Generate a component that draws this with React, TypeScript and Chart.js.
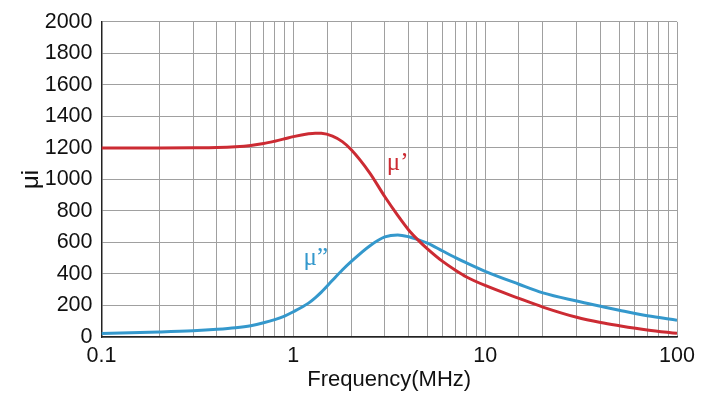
import React, { useEffect, useRef } from "react";
import { Chart, registerables } from "chart.js";

Chart.register(...registerables);

const freq = [0.1, 0.2, 0.3, 0.4, 0.5, 0.6, 0.7, 0.8, 0.9, 1.0, 1.2, 1.3, 1.4, 1.6, 1.8, 2.0, 2.5, 3.0, 3.5, 4.0, 4.5, 5, 6, 7, 8, 10, 15, 20, 30, 40, 50, 70, 100];
const muReal = [1200, 1200, 1201, 1203, 1208, 1216, 1228, 1243, 1258, 1272, 1290, 1294, 1293, 1275, 1240, 1190, 1042, 890, 772, 678, 612, 560, 480, 424, 381, 327, 245, 190, 125, 92, 72, 45, 23];
const muImag = [22, 32, 40, 49, 59, 72, 90, 110, 133, 160, 215, 249, 285, 360, 425, 478, 578, 635, 648, 636, 616, 596, 546, 504, 470, 417, 335, 280, 228, 195, 170, 135, 107];
const yTicks = [0, 200, 400, 600, 800, 1000, 1200, 1400, 1600, 1800, 2000];
const xTickLabels = ["0.1", "1", "10", "100"];

const RED = "#cc2b33";
const BLUE = "#3498cc";

const seriesLabels = [
  { text: "μ’", f: 3.5, v: 1100, color: RED },
  { text: "μ”", f: 1.31, v: 500, color: BLUE },
];

export default function App() {
  const ref = useRef<HTMLCanvasElement>(null);
  useEffect(() => {
    if (!ref.current) return;
    const labelPlugin = {
      id: "seriesLabels",
      afterDatasetsDraw(chart: any) {
        const ctx = chart.ctx;
        const xs = chart.scales.x;
        const ys = chart.scales.y;
        ctx.save();
        ctx.font = "25px 'Liberation Serif'";
        ctx.textAlign = "center";
        ctx.textBaseline = "middle";
        for (const l of seriesLabels) {
          ctx.fillStyle = l.color;
          ctx.fillText(l.text, xs.getPixelForValue(l.f), ys.getPixelForValue(l.v));
        }
        ctx.restore();
      },
    };
    const chart = new Chart(ref.current, {
      type: "line",
      data: {
        datasets: [
          {
            label: "μ'",
            data: freq.map((f, i) => ({ x: f, y: muReal[i] })),
            borderColor: RED,
            borderWidth: 3,
            pointRadius: 0,
            cubicInterpolationMode: "monotone",
          },
          {
            label: "μ''",
            data: freq.map((f, i) => ({ x: f, y: muImag[i] })),
            borderColor: BLUE,
            borderWidth: 3,
            pointRadius: 0,
            cubicInterpolationMode: "monotone",
          },
        ],
      },
      options: {
        responsive: false,
        animation: false,
        layout: { padding: { left: 0, right: 37, top: 19, bottom: 0 } },
        plugins: { legend: { display: false }, tooltip: { enabled: false } },
        scales: {
          x: {
            type: "logarithmic",
            min: 0.1,
            max: 100,
            afterFit: (s: any) => {
              s.height = 77;
            },
            grid: {
              color: "#a0a0a0",
              lineWidth: 1,
              drawTicks: false,
            },
            border: { color: "#222", width: 1.5 },
            ticks: {
              autoSkip: false,
              maxRotation: 0,
              padding: 6,
              color: "#111",
              font: { family: "'Liberation Sans', Arial", size: 21.5 },
              callback: (v: any) => {
                const l = Math.log10(Number(v));
                if (Math.abs(l - Math.round(l)) < 1e-6) {
                  const idx = Math.round(l) + 1;
                  return xTickLabels[idx] ?? "";
                }
                return "";
              },
            },
            title: {
              display: true,
              text: "Frequency(MHz)",
              color: "#111",
              font: { family: "'Liberation Sans', Arial", size: 22 },
              padding: { top: 0, bottom: 21 },
            },
          },
          y: {
            min: 0,
            max: 2000,
            afterFit: (s: any) => {
              s.width = 101.5;
            },
            afterBuildTicks: (s: any) => {
              s.ticks = yTicks.map((v) => ({ value: v }));
            },
            grid: { color: "#a0a0a0", lineWidth: 1, drawTicks: false },
            border: { color: "#222", width: 1.5 },
            ticks: {
              padding: 9,
              color: "#111",
              font: { family: "'Liberation Sans', Arial", size: 21.5 },
              callback: (v: any) => String(v),
            },
            title: {
              display: true,
              text: "μi",
              color: "#111",
              font: { family: "'Liberation Sans', Arial", size: 24 },
              padding: { top: 17, bottom: 0 },
            },
          },
        },
      },
      plugins: [labelPlugin],
    } as any);
    return () => chart.destroy();
  }, []);
  return (
    <div style={{ position: "fixed", left: 0, top: 0, width: 714, height: 414, background: "#fff" }}>
      <canvas ref={ref} width={714} height={414} />
    </div>
  );
}
